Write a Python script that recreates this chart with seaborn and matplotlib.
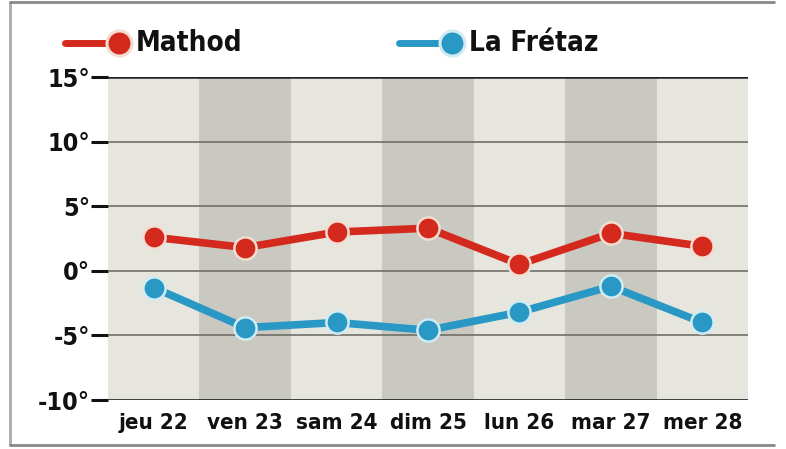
import numpy as np
import pandas as pd
import matplotlib
matplotlib.use('Agg')
import matplotlib.pyplot as plt
import seaborn as sns
from matplotlib.lines import Line2D

# ---------------------------------------------------------------
# DATA
# ---------------------------------------------------------------
days = ['jeu 22', 'ven 23', 'sam 24', 'dim 25', 'lun 26', 'mar 27', 'mer 28']
mathod = [2.6, 1.8, 3.0, 3.3, 0.5, 2.9, 1.9]
la_fretaz = [-1.3, -4.4, -4.0, -4.6, -3.2, -1.2, -4.0]
stations = ['Mathod', 'La Frétaz']
y_ticks = [-10, -5, 0, 5, 10, 15]

df = pd.DataFrame({
    'pos': list(range(len(days))) * 2,
    'temp': mathod + la_fretaz,
    'station': [stations[0]] * len(days) + [stations[1]] * len(days),
})

# ---------------------------------------------------------------
# STYLE
# ---------------------------------------------------------------
sns.set_style('white')
plt.rcParams['font.family'] = ['DejaVu Sans']
plt.rcParams['font.stretch'] = 'condensed'
plt.rcParams['font.weight'] = 'bold'
plt.rcParams['text.color'] = '#111111'
plt.rcParams['xtick.color'] = '#111111'
plt.rcParams['ytick.color'] = '#111111'

red = '#d42a1e'
blue = '#2a98c4'
palette = {stations[0]: red, stations[1]: blue}
edge = {stations[0]: '#f3dcd0', stations[1]: '#d2ebf3'}

fig = plt.figure(figsize=(7.86, 4.49), dpi=100)
ax = fig.add_axes([0.1374, 0.1091, 0.8143, 0.7194])

# alternating day columns
for i in range(len(days)):
    ax.axvspan(i - 0.5, i + 0.5, color='#e6e6df' if i % 2 == 0 else '#c9c9c1',
               zorder=0, lw=0)

# horizontal grid
for t in y_ticks:
    ax.axhline(t, color='#707068' if t not in (15, -10) else '#222222',
               lw=1.8 if t == 15 else 1.2, zorder=1)

sns.lineplot(data=df, x='pos', y='temp', hue='station', palette=palette,
             lw=5.5, legend=False, ax=ax, zorder=3)
for st, vals in zip(stations, [mathod, la_fretaz]):
    ax.plot(range(len(days)), vals, ls='none', marker='o', ms=16,
            mfc=palette[st], mec=edge[st], mew=1.8, zorder=4)

ax.set_xlim(-0.5, len(days) - 0.5)
ax.set_ylim(-10, 15)
ax.set_xticks(range(len(days)))
ax.set_xticklabels(days, fontsize=16, fontweight='bold')
ax.set_yticks(y_ticks)
ax.set_yticklabels([f'{t}°' for t in y_ticks], fontsize=18, fontweight='bold')
ax.tick_params(axis='y', length=12, width=2.2, pad=1, direction='out', left=True)
ax.tick_params(axis='x', length=0, pad=9)
for s in ax.spines.values():
    s.set_visible(False)
ax.set_xlabel('')
ax.set_ylabel('')

# legend drawn at the top
def legend_item(x0, st):
    fig.add_artist(Line2D([x0, x0 + 0.055], [0.905, 0.905], transform=fig.transFigure,
                          color=palette[st], lw=5))
    fig.add_artist(Line2D([x0 + 0.068], [0.905], transform=fig.transFigure,
                          marker='o', ms=18, mfc=palette[st], mec=edge[st], mew=2.2))
    fig.text(x0 + 0.090, 0.905, st, fontsize=20, fontweight='bold',
             va='center', ha='left')

legend_item(0.083, stations[0])
legend_item(0.507, stations[1])

# outer frame
fig.add_artist(Line2D([0.013, 0.013], [0.01, 0.995], transform=fig.transFigure, color='#aaaaaa', lw=2))
fig.add_artist(Line2D([0.013, 0.985], [0.995, 0.995], transform=fig.transFigure, color='#888888', lw=2))
fig.add_artist(Line2D([0.013, 0.985], [0.01, 0.01], transform=fig.transFigure, color='#888888', lw=2))

fig.savefig('out.png', dpi=100)
